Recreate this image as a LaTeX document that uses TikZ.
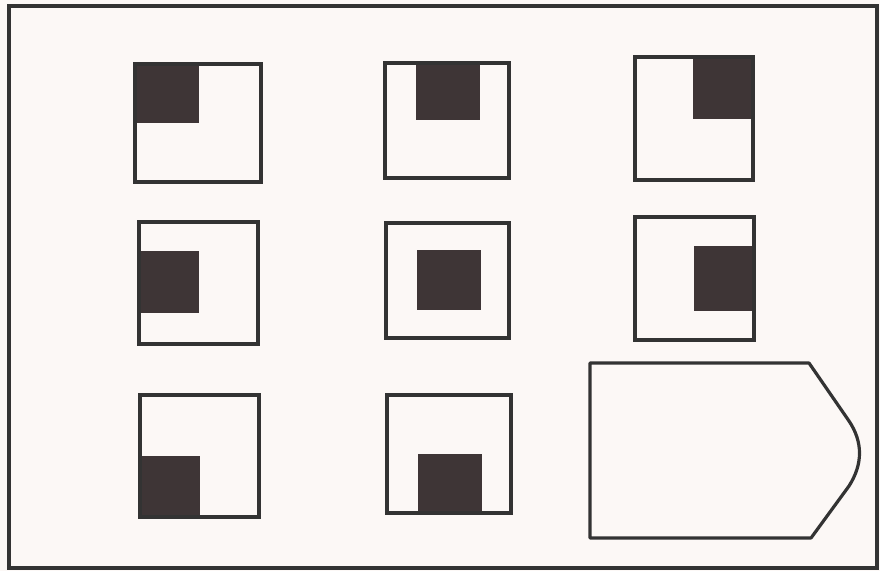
\documentclass[tikz,border=0pt]{standalone}
\begin{document}
\begin{tikzpicture}[x=1pt,y=-1pt,
  frame/.style={draw=black!80, line width=3.2pt},
  cell/.style={draw=black!80, line width=3.2pt},
  blk/.style={fill=darkfill}]
\definecolor{paper}{HTML}{FCF8F6}
\definecolor{darkfill}{HTML}{3E3536}
\fill[paper] (0,0) rectangle (880,571);
\useasboundingbox (0,0) rectangle (880,571);
\draw[frame] (9,6) rectangle (877,568);
% row 1
\fill[blk] (135,64) rectangle (199,123);
\draw[cell] (135,64) rectangle (261,182);
\fill[blk] (416,63) rectangle (480,120);
\draw[cell] (385,63) rectangle (509,178);
\fill[blk] (693,57) rectangle (753,119);
\draw[cell] (635,57) rectangle (753,180);
% row 2
\fill[blk] (139,251) rectangle (199,313);
\draw[cell] (139,222) rectangle (258,344);
\fill[blk] (417,250) rectangle (481,310);
\draw[cell] (386,223) rectangle (509,338);
\fill[blk] (694,246) rectangle (754,311);
\draw[cell] (635,217) rectangle (754,340);
% row 3
\fill[blk] (140,456) rectangle (200,517);
\draw[cell] (140,395) rectangle (259,517);
\fill[blk] (418,454) rectangle (482,513);
\draw[cell] (387,395) rectangle (511,513);
% answer shape
\draw[frame, line join=round] (590,363) -- (809,363) -- (849,421)
  .. controls (863,442) and (863,464) .. (849,486) -- (811,538) -- (590,538) -- cycle;
\end{tikzpicture}
\end{document}
